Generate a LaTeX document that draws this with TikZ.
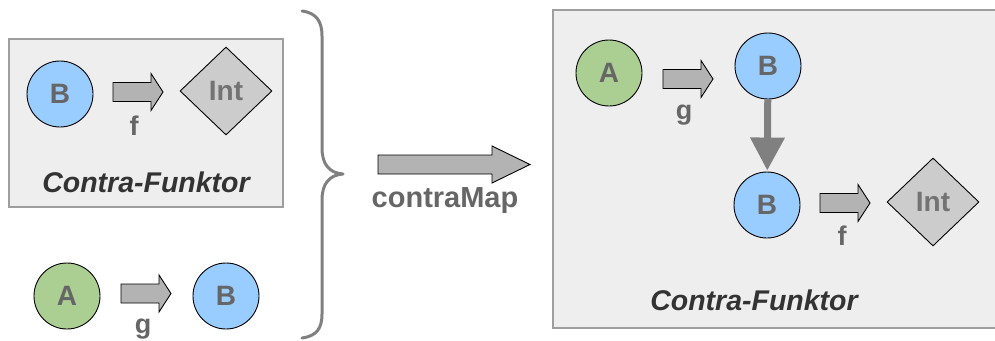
\documentclass[tikz,border=0pt]{standalone}
\usepackage{fontspec}
\setmainfont{Liberation Sans}
\usetikzlibrary{shapes.geometric,arrows.meta}
\definecolor{boxfill}{HTML}{EEEEEE}
\definecolor{boxline}{HTML}{9E9E9E}
\definecolor{bluefill}{HTML}{99CCFF}
\definecolor{greenfill}{HTML}{ABCF92}
\definecolor{arrfill}{HTML}{B3B3B3}
\definecolor{intfill}{HTML}{CCCCCC}
\definecolor{lettergray}{HTML}{666666}
\definecolor{inttext}{HTML}{737373}
\definecolor{titlegray}{HTML}{333333}
\definecolor{bracegray}{HTML}{808080}
\tikzset{
  x=1pt, y=-1pt,
  panel/.style={draw=boxline, fill=boxfill, line width=1.6pt},
  obj/.style={circle, draw=black, line width=0.9pt, minimum size=66pt, inner sep=0pt,
    font=\fontsize{28}{30}\selectfont\bfseries, text=lettergray},
  typeA/.style={obj, fill=greenfill},
  typeB/.style={obj, fill=bluefill},
  inttype/.style={diamond, draw=black, line width=0.9pt, fill=intfill, inner sep=0pt,
    minimum width=92pt, minimum height=88pt,
    font=\fontsize{28}{30}\selectfont\bfseries, text=inttext},
  maplabel/.style={anchor=base, font=\fontsize{27}{30}\selectfont\bfseries, text=lettergray},
  title/.style={anchor=base, font=\fontsize{28.5}{32}\selectfont\bfseries\itshape, text=titlegray},
  arrowbody/.style={draw=black, line width=0.9pt, fill=arrfill, line join=miter},
  % small block arrow, 50 long, pointing right from its origin
  blockarrow/.pic={
    \draw[arrowbody] (0,-9.5) -- (38,-9.5) -- (38,-18.5) -- (50,0) -- (38,18.5)
      -- (38,9.5) -- (0,9.5) -- cycle;
  },
  % large block arrow, 152 long
  bigarrow/.pic={
    \draw[arrowbody] (0,-9.5) -- (114,-9.5) -- (114,-18.5) -- (152,0) -- (114,18.5)
      -- (114,9.5) -- (0,9.5) -- cycle;
  }
}
\begin{document}
\begin{tikzpicture}
\useasboundingbox (0,0) rectangle (995,340);

% left column: contravariant functor B -> Int
\draw[panel] (9,39) rectangle (283,207);
\node[typeB] (lb) at (60,94) {B};
\node[inttype] (lint) at (226,91) {Int};
\pic at (113,92) {blockarrow};
\node[maplabel] (lf) at (134,135) {f};
\node[title] (lt) at (146,192) {Contra-Funktor};

% left column: plain function A -> B
\node[typeA] (la) at (67,296) {A};
\node[typeB] (lb2) at (226,296) {B};
\pic at (121,293.5) {blockarrow};
\node[maplabel] (lg) at (143,333.5) {g};

% curly brace grouping both inputs
\draw[bracegray, line width=3pt, line cap=round, line join=round]
  (302,11) .. controls (317,13) and (322,22) .. (322,36) -- (322,148)
  .. controls (322,164) and (329,173) .. (343,174)
  .. controls (329,175) and (322,184) .. (322,200) -- (322,314)
  .. controls (322,328) and (317,336) .. (302,338);

% contraMap operation
\pic at (378,164.5) {bigarrow};
\node[maplabel, font=\fontsize{29}{32}\selectfont\bfseries] (cm) at (445,207) {contraMap};

% right panel: resulting contravariant functor A -> Int
\draw[panel] (553,10) rectangle (1000,328);
\node[typeA] (ra) at (609,73) {A};
\node[typeB] (rb1) at (768,66) {B};
\node[typeB] (rb2) at (767,205) {B};
\node[inttype] (rint) at (933,202) {Int};
\pic at (663,79) {blockarrow};
\node[maplabel] (rg) at (684,119.5) {g};
\pic at (820,203) {blockarrow};
\node[maplabel] (rf) at (842,245) {f};
\draw[bracegray, line width=7pt, -{Triangle[width=33pt,length=33pt]}, shorten >=1pt]
  (rb1) -- (rb2);
\node[title] (rt) at (754,310) {Contra-Funktor};
\end{tikzpicture}
\end{document}
